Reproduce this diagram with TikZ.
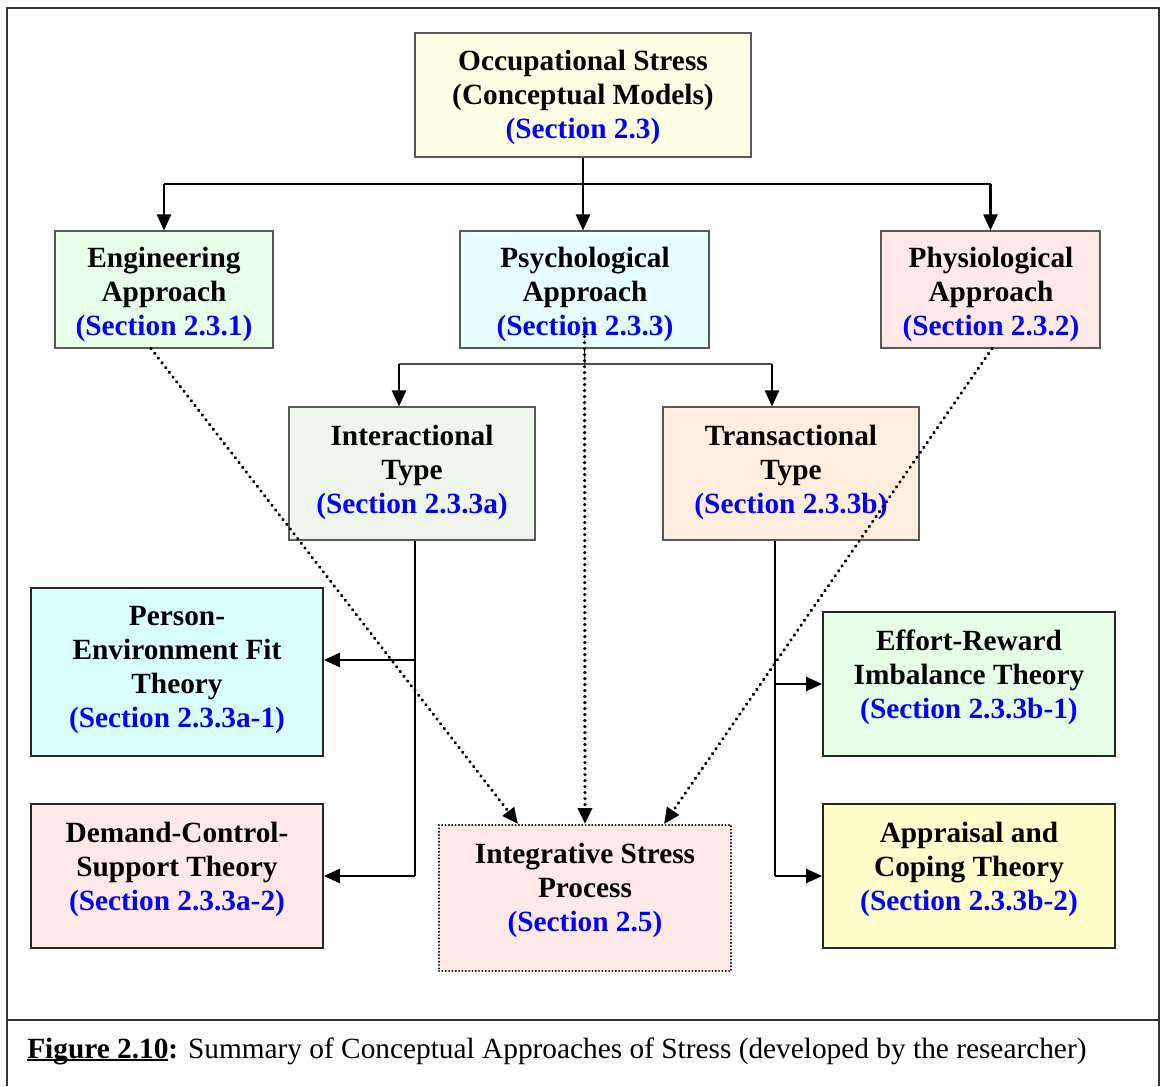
\documentclass[tikz,border=0pt]{standalone}
\usepackage{fontspec}
\setmainfont{Liberation Serif}
\usetikzlibrary{arrows.meta,fit,calc}
\definecolor{secblue}{RGB}{0,0,255}
\definecolor{cTop}{RGB}{255,255,230}
\definecolor{cEng}{RGB}{232,255,232}
\definecolor{cPsy}{RGB}{230,255,255}
\definecolor{cPhy}{RGB}{255,232,232}
\definecolor{cInt}{RGB}{238,246,238}
\definecolor{cTra}{RGB}{255,238,221}
\definecolor{cPE}{RGB}{217,255,255}
\definecolor{cDC}{RGB}{255,232,232}
\definecolor{cER}{RGB}{230,255,230}
\definecolor{cAC}{RGB}{255,255,204}
\definecolor{cIS}{RGB}{255,232,232}
\newcommand\seclabel[1]{\textcolor{secblue}{#1}}
\newcommand\thickul[1]{\setbox0\hbox{#1}\rlap{\rule[-2.4pt]{\wd0}{1.5pt}}\box0}
\tikzset{
  box/.style={draw=black!65, line width=0.8pt, inner sep=0pt},
  heavybox/.style={draw=black!85, line width=1.3pt, inner sep=0pt},
  dotbox/.style={draw=black, line width=1.5pt, dash pattern=on 0.1pt off 2.4pt, line cap=round, inner sep=0pt},
  lbl/.style={align=center, inner sep=0pt, font=\fontsize{22}{25.5}\selectfont\bfseries},
  conn/.style={line width=1.8pt},
  thinline/.style={line width=0.8pt},
  arr/.style={line width=1.8pt, -{Triangle[length=12pt,width=10.5pt]}},
  dots/.style={line width=2.6pt, dash pattern=on 0.1pt off 4.4pt, line cap=round,
    -{Triangle[length=12pt,width=10.5pt]}},
}
\begin{document}
\begin{tikzpicture}[x=0.75pt,y=-0.75pt]
\useasboundingbox (0,0) rectangle (1160,1086);

% outer frame and caption rule
\draw[line width=1.2pt, draw=black!80] (7,1086) -- (7,8) -- (1159,8) -- (1159,1086);
\draw[line width=1.2pt, draw=black!80] (7,1020) -- (1159,1020);

% boxes
\node[box, fill=cTop, fit={(415,33) (751,157)}] (top) {};
\node[box, fill=cEng, fit={(55,231) (273,348)}] (eng) {};
\node[box, fill=cPsy, fit={(460,231) (709,348)}] (psy) {};
\node[box, fill=cPhy, fit={(881,231) (1100,348)}] (phy) {};
\node[box, fill=cInt, fit={(289,407) (535,540)}] (inter) {};
\node[box, fill=cTra, fit={(663,407) (919,540)}] (trans) {};
\node[heavybox, fill=cPE, fit={(31,588) (323,756)}] (pe) {};
\node[heavybox, fill=cDC, fit={(31,804) (323,948)}] (dc) {};
\node[heavybox, fill=cER, fit={(823,612) (1115,756)}] (er) {};
\node[heavybox, fill=cAC, fit={(823,804) (1115,948)}] (ac) {};
\node[dotbox, fill=cIS, fit={(439,825) (731,971)}] (integ) {};

% box texts
\node[lbl] (topT) at (583,97) {Occupational Stress\\(Conceptual Models)\\\seclabel{(Section 2.3)}};
\node[lbl] (engT) at (164,294) {Engineering\\Approach\\\seclabel{(Section 2.3.1)}};
\node[lbl] (psyT) at (585,294) {Psychological\\Approach\\\seclabel{(Section 2.3.3)}};
\node[lbl] (phyT) at (991,294) {Physiological\\Approach\\\seclabel{(Section 2.3.2)}};
\node[lbl] (interT) at (412,472) {Interactional\\Type\\\seclabel{(Section 2.3.3a)}};
\node[lbl] (transT) at (791,472) {Transactional\\Type\\\seclabel{(Section 2.3.3b)}};
\node[lbl] (peT) at (177,670) {Person-\\Environment Fit\\Theory\\\seclabel{(Section 2.3.3a-1)}};
\node[lbl] (dcT) at (177,869) {Demand-Control-\\Support Theory\\\seclabel{(Section 2.3.3a-2)}};
\node[lbl] (erT) at (969,677) {Effort-Reward\\Imbalance Theory\\\seclabel{(Section 2.3.3b-1)}};
\node[lbl] (acT) at (969,869) {Appraisal and\\Coping Theory\\\seclabel{(Section 2.3.3b-2)}};
\node[lbl] (integT) at (585,890) {Integrative Stress\\Process\\\seclabel{(Section 2.5)}};

% first level: occupational stress to the three approaches
\coordinate (ja) at (583,184);
\draw[conn] (top.south) -- (ja);
\draw[thinline] (ja -| eng.north) -- (ja -| phy.north);
\draw[arr] (ja -| eng.north) -- (eng.north);
\draw[arr] (ja) -- (ja |- psy.north);
\draw[arr] (ja -| phy.north) -- (phy.north);

% second level: psychological approach to its two types
\coordinate (jb) at (585,364);
\coordinate (jl) at (399,364);
\coordinate (jr) at (772,364);
\draw[thinline] (psy.south) -- (jb);
\draw[thinline, draw=black!70] (jl) -- (jr);
\draw[arr] (jl) -- (jl |- inter.north);
\draw[arr] (jr) -- (jr |- trans.north);

% interactional type branches
\coordinate (ia) at (415,660);
\coordinate (ib) at (415,876);
\draw[conn] (inter.south -| ia) -- (ib);
\draw[arr] (ia) -- (ia -| pe.east);
\draw[arr] (ib) -- (ib -| dc.east);

% transactional type branches
\coordinate (ta) at (775,684);
\coordinate (tb) at (775,876);
\draw[conn] (trans.south -| ta) -- (tb);
\draw[arr] (ta) -- (ta -| er.west);
\draw[arr] (tb) -- (tb -| ac.west);

% dotted links into the integrative process
\draw[dots] ($(eng.south)+(-13,0)$) -- ($(integ.north)+(-67,0)$);
\draw[dots] ($(psy.south)+(0,-30)$) -- (integ.north);
\draw[dots] ($(phy.south)+(1.5,0)$) -- ($(integ.north)+(79,0)$);

% caption
\node[anchor=base west, inner sep=0pt, font=\fontsize{22}{26}\selectfont] (cap) at (27,1058)
  {\thickul{\textbf{Figure 2.10}}\textbf{:} Summary of Conceptual Approaches of Stress (developed by the researcher)};
\end{tikzpicture}
\end{document}
